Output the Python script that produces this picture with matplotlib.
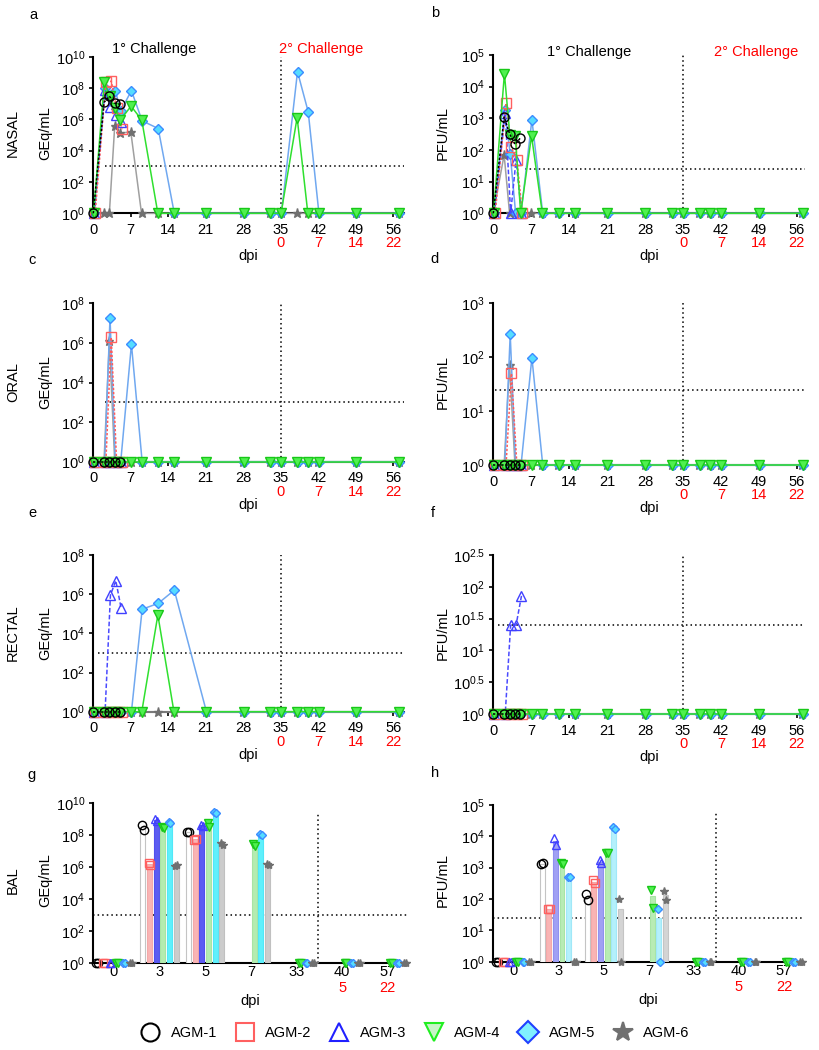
import numpy as np
import matplotlib
matplotlib.use('Agg')
import matplotlib.pyplot as plt
from matplotlib.lines import Line2D
from matplotlib.ticker import NullLocator

plt.rcParams['font.family'] = ['Liberation Sans', 'DejaVu Sans']
plt.rcParams['mathtext.fontset'] = 'custom'
plt.rcParams['mathtext.rm'] = 'Liberation Sans'
plt.rcParams['mathtext.it'] = 'Liberation Sans:italic'
plt.rcParams['mathtext.bf'] = 'Liberation Sans:bold'
plt.rcParams['font.size'] = 10

# ---------------- data ----------------
animals = ['AGM-1', 'AGM-2', 'AGM-3', 'AGM-4', 'AGM-5', 'AGM-6']
days = [0, 2, 3, 4, 5, 7, 9, 12, 15, 21, 28, 33, 35, 38, 40, 42, 49, 57]
x_ticks = [0, 7, 14, 21, 28, 35, 42, 49, 56]
second_tick_pos = [35, 42, 49, 56]
second_tick_labels = ['0', '7', '14', '22']

nasal_geq = [
    [1, 1.2e7, 3e7, 1.1e7, 9e6],
    [1, 2.5e8, 2.7e8, 5e6, 2.3e5],
    [1, 8e7, 6e6, 2e6, 7e5],
    [1, 2.3e8, 3e7, 5e6, 9e5, 7e6, 9e5, 1, 1, 1, 1, 1, 1, 1.3e6, 1, 1, 1, 1],
    [1, 1e8, 3e7, 6.8e7, 3.5e6, 6.8e7, 8e5, 2.6e5, 1, 1, 1, 1, 1, 1.1e9, 3e6, 1, 1, 1],
    [1, 1, 1, 3.9e5, 1.3e5, 1.6e5, 1, 1, 1, 1, 1, 1, 1, 1, 1, 1, 1, 1],
]
nasal_pfu = [
    [1, 1.1e3, 3.3e2, 1.5e2, 2.4e2],
    [1, 3e3, 1.2e2, 50, 1],
    [1, 1.5e3, 1, 50, 1],
    [1, 2.6e4, 3e2, 2.8e2, 1, 2.8e2, 1, 1, 1, 1, 1, 1, 1, 1, 1, 1, 1, 1],
    [1, 1.8e3, 75, 1, 1, 9e2, 1, 1, 1, 1, 1, 1, 1, 1, 1, 1, 1, 1],
    [1, 70, 1, 1, 1, 1, 1, 1, 1, 1, 1, 1, 1, 1, 1, 1, 1, 1],
]
oral_geq = [
    [1, 1, 1, 1, 1],
    [1, 1, 1.9e6, 1, 1],
    [1, 1, 1, 1, 1],
    [1, 1, 1, 1, 1, 1, 1, 1, 1, 1, 1, 1, 1, 1, 1, 1, 1, 1],
    [1, 1, 1.9e7, 1, 1, 8.5e5, 1, 1, 1, 1, 1, 1, 1, 1, 1, 1, 1, 1],
    [1, 1, 1.2e6, 1, 1, 1, 1, 1, 1, 1, 1, 1, 1, 1, 1, 1, 1, 1],
]
oral_pfu = [
    [1, 1, 1, 1, 1],
    [1, 1, 50, 1, 1],
    [1, 1, 1, 1, 1],
    [1, 1, 1, 1, 1, 1, 1, 1, 1, 1, 1, 1, 1, 1, 1, 1, 1, 1],
    [1, 1, 265, 1, 1, 98, 1, 1, 1, 1, 1, 1, 1, 1, 1, 1, 1, 1],
    [1, 1, 72, 1, 1, 1, 1, 1, 1, 1, 1, 1, 1, 1, 1, 1, 1, 1],
]
rectal_geq = [
    [1, 1, 1, 1, 1],
    [1, 1, 1, 1, 1],
    [1, 1, 9e5, 4.9e6, 1.9e5],
    [1, 1, 1, 1, 1, 1, 1, 8.7e4, 1, 1, 1, 1, 1, 1, 1, 1, 1, 1],
    [1, 1, 1, 1, 1, 1, 1.7e5, 3.4e5, 1.6e6, 1, 1, 1, 1, 1, 1, 1, 1, 1],
    [1, 1, 1, 1, 1, 1, 1, 1, 1, 1, 1, 1, 1, 1, 1, 1, 1, 1],
]
rectal_pfu = [
    [1, 1, 1, 1, 1],
    [1, 1, 1, 1, 1],
    [1, 1, 25, 25, 72],
    [1, 1, 1, 1, 1, 1, 1, 1, 1, 1, 1, 1, 1, 1, 1, 1, 1, 1],
    [1, 1, 1, 1, 1, 1, 1, 1, 1, 1, 1, 1, 1, 1, 1, 1, 1, 1],
    [1, 1, 1, 1, 1, 1, 1, 1, 1, 1, 1, 1, 1, 1, 1, 1, 1, 1],
]

nan = np.nan
bal_days = ['0', '3', '5', '7', '33', '40', '57']
bal_second_labels = ['', '', '', '', '', '5', '22']
bal_geq_rep1 = [
    [1, 4.4e8, 1.7e8, nan, nan, nan, nan],
    [1, 1.7e6, 5e7, nan, nan, nan, nan],
    [1, 1.1e9, 4.4e8, nan, nan, nan, nan],
    [1, 3.5e8, 5.6e8, 2.8e7, 1, 1, 1],
    [1, 7e8, 3e9, 1.2e8, 1, 1, 1],
    [1, 1.2e6, 3.1e7, 1.5e6, 1, 1, 1],
]
bal_geq_rep2 = [
    [1, 2.1e8, 1.5e8, nan, nan, nan, nan],
    [1, 1.3e6, 6e7, nan, nan, nan, nan],
    [1, 8e8, 3.8e8, nan, nan, nan, nan],
    [1, 3e8, 3.2e8, 2.2e7, 1, 1, 1],
    [1, 6e8, 2.6e9, 1.05e8, 1, 1, 1],
    [1, 1.4e6, 2.6e7, 1.4e6, 1, 1, 1],
]
bal_pfu_rep1 = [
    [1, 1.3e3, 145, nan, nan, nan, nan],
    [1, 47, 390, nan, nan, nan, nan],
    [1, 8.7e3, 1.7e3, nan, nan, nan, nan],
    [1, 1.4e3, 3e3, 200, 1, 1, 1],
    [1, 520, 2e4, 48, 1, 1, 1],
    [1, 1, 98, 185, 1, 1, 1],
]
bal_pfu_rep2 = [
    [1, 1.4e3, 93, nan, nan, nan, nan],
    [1, 47, 330, nan, nan, nan, nan],
    [1, 5.3e3, 1.4e3, nan, nan, nan, nan],
    [1, 1.35e3, 2.9e3, 50, 1, 1, 1],
    [1, 500, 1.7e4, 1, 1, 1, 1],
    [1, 1, 1, 93, 1, 1, 1],
]

# ---------------- styles ----------------
markers = ['o', 's', '^', 'v', 'D', '*']
line_colors = ['black', '#ff5a5a', '#4a4aff', '#2fe02f', '#70a8f0', '#a0a0a0']
line_styles = [(0, (1.5, 1.2)), (0, (1.5, 1.2)), (0, (3, 1.5)), '-', '-', '-']
m_face = ['none', 'none', 'none', '#50f050', '#55dcff', '#707070']
m_edge = ['black', '#ff6060', '#4040ff', '#18c818', '#3c8cff', '#707070']
m_size = [6.5, 6.5, 6.5, 6.5, 5.0, 6.5]
x_off = [0.0, 0.35, 0.2, 0.05, 0.12, 0.0]
z_ord = [8, 6, 5, 7, 4, 3]

W, H = 820.0, 1050.0


def rect(x0, x1, ytop, ybot):
    return [x0 / W, 1 - ybot / H, (x1 - x0) / W, (ybot - ytop) / H]


fig = plt.figure(figsize=(8.2, 10.5), dpi=100)
dot = (0, (1, 2))


def exp_lab(e):
    return r'$10^{%s}$' % e


def style_axes(ax, yexps):
    ax.set_yscale('log')
    ax.set_ylim(1, 10 ** yexps[-1])
    ax.set_yticks([10 ** e for e in yexps])
    ax.set_yticklabels([exp_lab(('%g' % e)) for e in yexps])
    ax.yaxis.set_minor_locator(NullLocator())
    for s in ['top', 'right']:
        ax.spines[s].set_visible(False)
    for s in ['left', 'bottom']:
        ax.spines[s].set_linewidth(1.5)
    ax.tick_params(axis='both', direction='out', length=3, width=1.2, labelsize=10.5, pad=3)
    ax.tick_params(axis='x', pad=4)


def line_panel(ax, data, yexps, thresh, hstart, xmax):
    style_axes(ax, yexps)
    ax.set_xlim(0, xmax)
    ax.set_xticks(x_ticks)
    ax.set_xticklabels([str(t) for t in x_ticks])
    for k in range(6):
        y = np.array(data[k], dtype=float)
        x = np.array(days[:len(y)], dtype=float) + x_off[k]
        ax.plot(x, y, ls=line_styles[k], color=line_colors[k], lw=1.1,
                marker=markers[k], ms=m_size[k], mfc=m_face[k], mec=m_edge[k],
                mew=1.0, clip_on=False, zorder=z_ord[k])
    ax.axvline(35, color='black', ls=dot, lw=1.1, zorder=2)
    ax.plot([hstart, xmax], [thresh, thresh], color='black', ls=dot, lw=1.1,
            zorder=2, clip_on=False)
    for p, lab in zip(second_tick_pos, second_tick_labels):
        ax.annotate(lab, xy=(p, 0), xycoords=('data', 'axes fraction'),
                    xytext=(0, -30 * 0.72), textcoords='offset points',
                    ha='center', va='center', color='red', fontsize=10.5)
    ax.annotate('dpi', xy=(0.5, 0), xycoords='axes fraction',
                xytext=(0, -43 * 0.72), textcoords='offset points',
                ha='center', va='center', fontsize=10.5)


def bar_panel(ax, rep1, rep2, yexps, thresh, colors, edges, vtop):
    style_axes(ax, yexps)
    slot = 0.147
    bw = 0.11
    ax.set_xlim(-0.45, 6.42)
    ax.set_xticks(range(len(bal_days)))
    ax.set_xticklabels(bal_days)
    ax.tick_params(axis='x', length=0, pad=1.5)
    for k in range(6):
        r1 = np.array(rep1[k], dtype=float)
        r2 = np.array(rep2[k], dtype=float)
        xs = np.arange(len(bal_days)) + (k - 2.5) * slot
        mean = (r1 + r2) / 2.0
        ok = ~np.isnan(mean) & (mean > 1)
        ax.bar(xs[ok], mean[ok] - 1, bottom=1, width=bw, color=colors[k],
               edgecolor=edges[k], lw=0.8, zorder=3)
        for rr, dx in ((r1, -0.02), (r2, 0.02)):
            okm = ~np.isnan(rr)
            ax.plot(xs[okm] + dx, rr[okm], ls='none', marker=markers[k],
                    ms=m_size[k] - 0.5, mfc=m_face[k], mec=m_edge[k], mew=1.0,
                    clip_on=False, zorder=5 + k)
    ax.axvline(4.48, color='black', ls=dot, lw=1.1, ymax=vtop, zorder=2)
    ax.plot([-0.45, 6.42], [thresh, thresh], color='black', ls=dot, lw=1.1, zorder=2)
    for i, lab in enumerate(bal_second_labels):
        if lab:
            ax.annotate(lab, xy=(i, 0), xycoords=('data', 'axes fraction'),
                        xytext=(0, -25 * 0.72), textcoords='offset points',
                        ha='center', va='center', color='red', fontsize=10.5)
    ax.annotate('dpi', xy=(0.5, 0), xycoords='axes fraction',
                xytext=(0, -38 * 0.72), textcoords='offset points',
                ha='center', va='center', fontsize=10.5)


LX0, LX1 = 93.3, 404.0
RX0, RX1 = 493.3, 805.0

ax_a = fig.add_axes(rect(LX0, LX1, 56.7, 213.3))
line_panel(ax_a, nasal_geq, [0, 2, 4, 6, 8, 10], 1e3, 2.2, 58)
ax_b = fig.add_axes(rect(RX0, RX1, 55.0, 213.3))
line_panel(ax_b, nasal_pfu, [0, 1, 2, 3, 4, 5], 25, 5.8, 57.5)
ax_c = fig.add_axes(rect(LX0, LX1, 303.3, 461.7))
line_panel(ax_c, oral_geq, [0, 2, 4, 6, 8], 1e3, 2.2, 58)
ax_d = fig.add_axes(rect(RX0, RX1, 303.3, 465.0))
line_panel(ax_d, oral_pfu, [0, 1, 2, 3], 25, 0.3, 57.5)
ax_e = fig.add_axes(rect(LX0, LX1, 555.0, 711.7))
line_panel(ax_e, rectal_geq, [0, 2, 4, 6, 8], 1e3, 0.9, 58)
ax_f = fig.add_axes(rect(RX0, RX1, 555.0, 714.0))
line_panel(ax_f, rectal_pfu, [0, 0.5, 1, 1.5, 2, 2.5], 25, 0.9, 57.5)

g_colors = ['white', '#f9b4b4', '#5c5cf2', '#b4ecb0', '#5ff0fc', '#cccccc']
g_edges = ['#c4c4c4', '#f4a8a8', '#5050ee', '#a8e4a4', '#50e8f8', '#c0c0c0']
h_colors = ['white', '#f9b4b4', '#a0a0f4', '#b8ecb4', '#b4f0fc', '#d4d4d4']
h_edges = ['#c4c4c4', '#f4a8a8', '#9090f0', '#a8e4a4', '#a0e8f8', '#c4c4c4']

ax_g = fig.add_axes(rect(93.3, 407.0, 803.3, 962.7))
bar_panel(ax_g, bal_geq_rep1, bal_geq_rep2, [0, 2, 4, 6, 8, 10], 1e3, g_colors, g_edges, 0.94)
ax_h = fig.add_axes(rect(493.3, 803.0, 805.0, 961.7))
bar_panel(ax_h, bal_pfu_rep1, bal_pfu_rep2, [0, 1, 2, 3, 4, 5], 25, h_colors, h_edges, 0.955)

# ---------------- figure texts ----------------
def ftext(x, y, s, **kw):
    fig.text(x / W, 1 - y / H, s, **kw)

for lab, x, y in [('a', 33, 15), ('b', 435, 13), ('c', 32, 260), ('d', 435, 259),
                  ('e', 32, 513), ('f', 433, 513), ('g', 32, 775), ('h', 435, 773)]:
    ftext(x, y, lab, ha='center', va='center', fontsize=10.5)

for name, yc in [('NASAL', 133), ('ORAL', 382), ('RECTAL', 633), ('BAL', 880)]:
    ftext(13, yc, name, rotation=90, ha='center', va='center', fontsize=10.5)
    ftext(45, yc, 'GEq/mL', rotation=90, ha='center', va='center', fontsize=10.5)
    ftext(443, yc, 'PFU/mL', rotation=90, ha='center', va='center', fontsize=10.5)

ftext(154, 49, '1° Challenge', ha='center', va='center', fontsize=10.5)
ftext(321, 49, '2° Challenge', ha='center', va='center', fontsize=10.5, color='red')
ftext(589, 52, '1° Challenge', ha='center', va='center', fontsize=10.5)
ftext(756, 52, '2° Challenge', ha='center', va='center', fontsize=10.5, color='red')

leg_face = ['none', 'none', 'none', '#c8f5c8', '#80f0ff', '#707070']
leg_edge = ['black', '#ff6060', '#2020ff', '#20ee20', '#2040ff', '#707070']
leg_ms = [13, 13, 13, 13, 11, 15]
handles = [Line2D([], [], ls='none', marker=markers[k], ms=leg_ms[k],
                  mfc=leg_face[k], mec=leg_edge[k], mew=1.5) for k in range(6)]
fig.legend(handles, animals, loc='center', bbox_to_anchor=(0.507, 1 - 1033 / H),
           ncol=6, frameon=False, fontsize=10.5, columnspacing=1.3,
           handletextpad=0.8, handlelength=1.2)

fig.savefig('out.png', dpi=100)
